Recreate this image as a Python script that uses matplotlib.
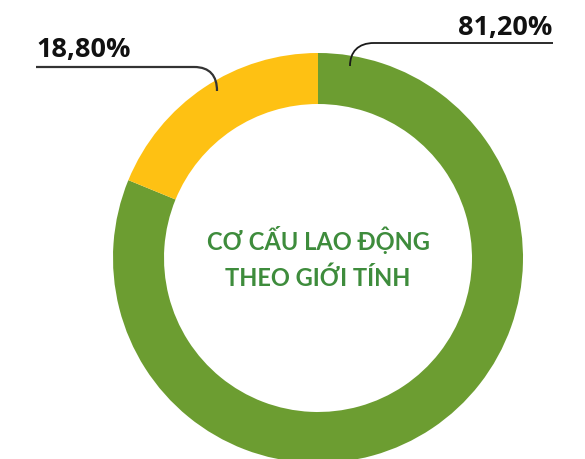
import matplotlib
matplotlib.use("Agg")
import matplotlib.pyplot as plt
from matplotlib.path import Path
from matplotlib.patches import PathPatch

categories = ["Nam", "Nữ"]
values = [81.2, 18.8]
value_labels = ["81,20%", "18,80%"]
colors = ["#6c9d31", "#fec113"]
center_title = "CƠ CẤU LAO ĐỘNG\nTHEO GIỚI TÍNH"

W, H = 585, 459
fig = plt.figure(figsize=(W / 100, H / 100), dpi=100)
ax = fig.add_axes([0, 0, 1, 1])

cx, cy, R = 318, 258, 205
# y axis is inverted below, so startangle=-90 points up and counterclock=True draws clockwise on screen
ax.pie(values, colors=colors, startangle=-90, counterclock=True,
       center=(cx, cy), radius=R, frame=True,
       wedgeprops=dict(width=51, linewidth=0))
ax.set_xlim(0, W)
ax.set_ylim(H, 0)
ax.set_aspect("auto")
ax.axis("off")

ax.text(cx, 250, center_title.split("\n")[0], ha="center", va="baseline", color="#3e8c3c",
        fontsize=17, fontweight="bold", family=["Lato", "DejaVu Sans"])
ax.text(cx, 286, center_title.split("\n")[1], ha="center", va="baseline", color="#3e8c3c",
        fontsize=17, fontweight="bold", family=["Lato", "DejaVu Sans"])

# leader lines
def leader(pts, lw, color):
    codes = [Path.MOVETO, Path.LINETO, Path.CURVE4, Path.CURVE4, Path.CURVE4]
    ax.add_patch(PathPatch(Path(pts, codes), fill=False, lw=lw, color=color,
                           capstyle="butt"))

leader([(553, 43), (374, 43), (358, 43), (350, 52), (350, 66)], 1.3, "#1a1a1a")
leader([(36, 67), (194, 67), (210, 67), (217, 76), (217, 91)], 1.6, "#333333")

ax.text(552, 35.5, value_labels[0], ha="right", va="baseline", fontsize=19.5,
        fontweight="bold", family=["Open Sans", "DejaVu Sans"], color="#111111")
ax.text(36, 56.5, value_labels[1], ha="left", va="baseline", fontsize=19.5,
        fontweight="bold", family=["Open Sans", "DejaVu Sans"], color="#111111")

fig.savefig("out.png", dpi=100)
